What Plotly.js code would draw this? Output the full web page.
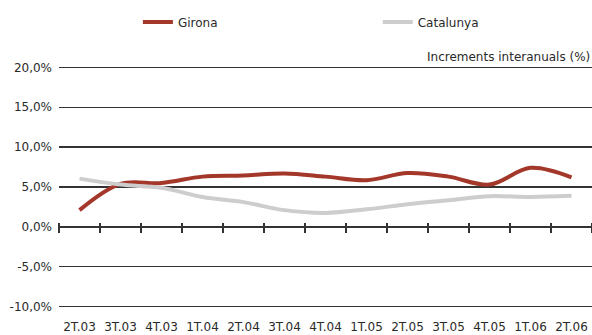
<!DOCTYPE html>
<html>
<head>
<meta charset="utf-8">
<script src="https://cdn.plot.ly/plotly-3.0.1.min.js"></script>
<style>html,body{margin:0;padding:0;background:#fff}#chart{width:592px;height:335px}</style>
</head>
<body>
<div id="chart"></div>
<script>
var categories = ['2T.03','3T.03','4T.03','1T.04','2T.04','3T.04','4T.04','1T.05','2T.05','3T.05','4T.05','1T.06','2T.06'];
var gironaValues = [2.1, 5.4, 5.5, 6.3, 6.45, 6.7, 6.3, 5.85, 6.75, 6.3, 5.3, 7.4, 6.2];
var catalunyaValues = [6.05, 5.3, 4.9, 3.75, 3.1, 2.1, 1.75, 2.2, 2.85, 3.35, 3.85, 3.75, 3.9];
var yTickVals = [-10, -5, 0, 5, 10, 15, 20];
var yTickText = ['-10,0%', '-5,0%', '0,0%', '5,0%', '10,0%', '15,0%', '20,0%'];
var seriesNames = ['Girona', 'Catalunya'];
var unitsLabel = 'Increments interanuals (%)';

var FONT = '"DejaVu Sans", sans-serif';
var TXT = '#2a2a2a';
var Y_RANGE = [-10.3, 20.3];
var PLOT_H = 244;
var traces = [
  {x: categories, y: catalunyaValues, name: seriesNames[1], type: 'scatter', mode: 'lines',
   xaxis: 'x2', legend: 'legend2',
   line: {color: '#cdcdcd', width: 4, shape: 'spline', smoothing: 1}},
  {x: categories, y: gironaValues, name: seriesNames[0], type: 'scatter', mode: 'lines',
   xaxis: 'x', legend: 'legend',
   line: {color: '#a3372a', width: 4, shape: 'spline', smoothing: 1}}
];
var zeroFrac = (0 - Y_RANGE[0]) / (Y_RANGE[1] - Y_RANGE[0]);
var xBase = {type: 'category', categoryarray: categories, categoryorder: 'array', range: [-0.5, 12.5], fixedrange: true};
var legBase = {orientation: 'h', xanchor: 'left', y: 1.176, yanchor: 'middle', bgcolor: 'rgba(0,0,0,0)',
               font: {family: FONT, size: 12, color: TXT}};
var layout = {
  width: 592, height: 335,
  margin: {l: 59, r: 0, t: 65, b: 26},
  paper_bgcolor: '#fff', plot_bgcolor: '#fff',
  font: {family: FONT, size: 12, color: TXT},
  showlegend: true,
  legend: Object.assign({}, legBase, {x: 0.148}),
  legend2: Object.assign({}, legBase, {x: 0.598}),
  xaxis: Object.assign({}, xBase, {showgrid: false, showline: false, zeroline: false,
          ticks: 'outside', ticklen: 7, tickcolor: 'rgba(0,0,0,0)',
          tickfont: {family: FONT, size: 12, color: TXT}}),
  xaxis2: Object.assign({}, xBase, {overlaying: 'x', anchor: 'free', position: zeroFrac + 5 / PLOT_H, side: 'bottom',
          showgrid: false, showline: false, zeroline: false,
          ticks: 'outside', ticklen: 10, tickwidth: 1.3, tickcolor: '#333', tickson: 'boundaries',
          showticklabels: false}),
  yaxis: {range: Y_RANGE, tickvals: yTickVals, ticktext: yTickText, fixedrange: true,
          showgrid: true, gridcolor: '#333', gridwidth: 1.4,
          zeroline: true, zerolinecolor: '#333', zerolinewidth: 1.4,
          showline: false, ticks: '', ticklabelstandoff: 6,
          tickfont: {family: FONT, size: 12, color: TXT}},
  annotations: [{text: unitsLabel, xref: 'paper', yref: 'paper', x: 1, y: 0.995, xanchor: 'right', yanchor: 'bottom',
                 showarrow: false, font: {family: FONT, size: 12, color: TXT}}]
};
Plotly.newPlot('chart', traces, layout, {displayModeBar: false, staticPlot: true});
</script>
</body>
</html>
